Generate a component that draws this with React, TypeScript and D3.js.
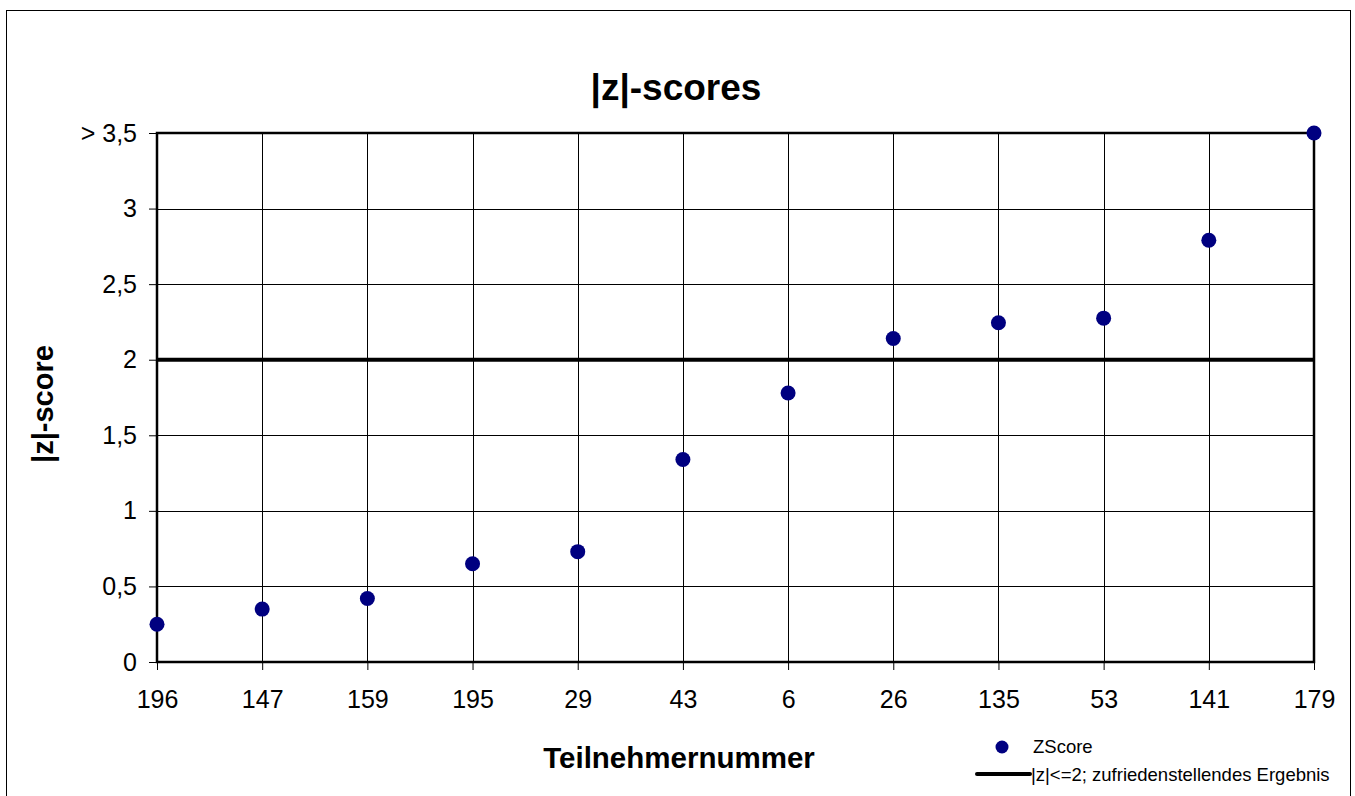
import React, { useEffect, useRef } from 'react';
import * as d3 from 'd3';

const participants = ['196', '147', '159', '195', '29', '43', '6', '26', '135', '53', '141', '179'];
const zScores = [0.25, 0.35, 0.42, 0.65, 0.73, 1.34, 1.78, 2.14, 2.245, 2.275, 2.79, 3.5];
const yTicks = [0, 0.5, 1, 1.5, 2, 2.5, 3, 3.5];
const yTickLabels = ['0', '0,5', '1', '1,5', '2', '2,5', '3', '> 3,5'];
const limit = 2;

function App() {
  const ref = useRef<SVGSVGElement>(null);

  useEffect(() => {
    if (!ref.current) return;
    const svg = d3.select(ref.current);
    svg.selectAll('*').remove();

    const left = 157, right = 1314, top = 133, bottom = 662;
    const font = 'Arial, "Liberation Sans", sans-serif';

    // outer chart frame
    svg.append('rect')
      .attr('x', 6.5).attr('y', 10.5)
      .attr('width', 1344).attr('height', 800)
      .attr('fill', '#fff').attr('stroke', '#000').attr('stroke-width', 1);

    const x = d3.scalePoint().domain(participants).range([left, right]).padding(0);
    const y = d3.scaleLinear().domain([0, 3.5]).range([bottom, top]);

    // grid
    svg.append('g').selectAll('line.h')
      .data(yTicks)
      .enter().append('line')
      .attr('x1', left).attr('x2', right)
      .attr('y1', (d) => Math.round(y(d)) + 0.5).attr('y2', (d) => Math.round(y(d)) + 0.5)
      .attr('stroke', '#000').attr('stroke-width', 1);
    svg.append('g').selectAll('line.v')
      .data(participants)
      .enter().append('line')
      .attr('x1', (d) => Math.round(x(d)!) + 0.5).attr('x2', (d) => Math.round(x(d)!) + 0.5)
      .attr('y1', top).attr('y2', bottom)
      .attr('stroke', '#000').attr('stroke-width', 1);

    // axes
    const yAxis = d3.axisLeft(y).tickValues(yTicks)
      .tickFormat((_, i) => yTickLabels[i]).tickSize(8).tickPadding(12);
    const gy = svg.append('g').attr('transform', `translate(${left},0)`).call(yAxis);
    gy.select('.domain').remove();
    gy.selectAll('line').attr('stroke', '#000');
    gy.selectAll('text').attr('font-family', font).attr('font-size', 25).attr('fill', '#000');

    const xAxis = d3.axisBottom(x).tickSize(8).tickPadding(20);
    const gx = svg.append('g').attr('transform', `translate(0,${bottom})`).call(xAxis);
    gx.select('.domain').remove();
    gx.selectAll('line').attr('stroke', '#000');
    gx.selectAll('text').attr('font-family', font).attr('font-size', 25).attr('fill', '#000');

    // plot frame
    svg.append('rect')
      .attr('x', left).attr('y', top)
      .attr('width', right - left).attr('height', bottom - top)
      .attr('fill', 'none').attr('stroke', '#000').attr('stroke-width', 2.5);

    // limit line
    svg.append('line')
      .attr('x1', left).attr('x2', right)
      .attr('y1', y(limit)).attr('y2', y(limit))
      .attr('stroke', '#000').attr('stroke-width', 4);

    // points
    svg.append('g').selectAll('circle')
      .data(zScores)
      .enter().append('circle')
      .attr('cx', (_, i) => x(participants[i])!)
      .attr('cy', (d) => y(d))
      .attr('r', 7.5)
      .attr('fill', '#000080');

    // titles
    svg.append('text')
      .attr('x', 676).attr('y', 100)
      .attr('text-anchor', 'middle')
      .attr('font-family', font).attr('font-weight', 'bold').attr('font-size', 37)
      .text('|z|-scores');

    svg.append('text')
      .attr('transform', 'translate(53,404) rotate(-90)')
      .attr('text-anchor', 'middle')
      .attr('font-family', font).attr('font-weight', 'bold').attr('font-size', 29)
      .text('|z|-score');

    svg.append('text')
      .attr('x', 679).attr('y', 768)
      .attr('text-anchor', 'middle')
      .attr('font-family', font).attr('font-weight', 'bold').attr('font-size', 29.5)
      .text('Teilnehmernummer');

    // legend
    const lg = svg.append('g');
    lg.append('circle').attr('cx', 1002).attr('cy', 747).attr('r', 6.5).attr('fill', '#000080');
    lg.append('text').attr('x', 1033).attr('y', 753)
      .attr('font-family', font).attr('font-size', 18.5).text('ZScore');
    lg.append('line').attr('x1', 977).attr('x2', 1030).attr('y1', 774).attr('y2', 774)
      .attr('stroke', '#000').attr('stroke-width', 4).attr('stroke-linecap', 'round');
    lg.append('text').attr('x', 1031).attr('y', 781)
      .attr('font-family', font).attr('font-size', 18.5).text('|z|<=2; zufriedenstellendes Ergebnis');
  }, []);

  return (
    <svg ref={ref} width={1355} height={796}
      style={{ position: 'absolute', left: 0, top: 0, background: '#fff' }} />
  );
}

export default App;
